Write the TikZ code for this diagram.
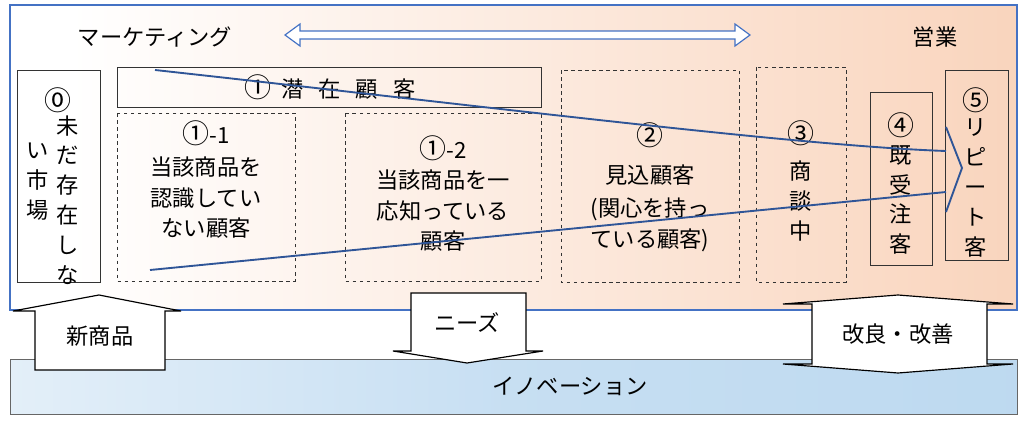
\documentclass[tikz,border=0pt]{standalone}
\usepackage{fontspec}
\setmainfont{Noto Sans CJK JP}
\usetikzlibrary{arrows.meta}
\definecolor{frameblue}{HTML}{4472C4}
\definecolor{lineblue}{HTML}{2F5597}
\definecolor{orng}{HTML}{F6BE9A}
\definecolor{lblue}{HTML}{B4D4EE}
\pgfdeclarehorizontalshading{mainshade}{100bp}{color(0bp)=(white);color(28bp)=(white);color(100bp)=(orng)}
\pgfdeclarehorizontalshading{botshade}{100bp}{color(0bp)=(white);color(50bp)=(lblue!75);color(100bp)=(lblue)}
\begin{document}
\begin{tikzpicture}[x=0.03cm,y=-0.03cm,
  every node/.style={font=\fontsize{19}{26}\selectfont,inner sep=0pt},
  num/.style={font=\fontsize{23}{26}\selectfont},
  vert/.style={align=center,font=\fontsize{19}{25.5}\selectfont},
  solidbox/.style={draw=black!80,line width=0.6pt},
  dashbox/.style={draw=black!80,dashed,line width=0.6pt},
  blk/.style={draw=black,fill=white,line width=1pt,line join=miter},
  flow/.style={draw=lineblue,line width=1.6pt}]
\useasboundingbox (0,0) rectangle (1024,421);
\path[shading=mainshade,draw=frameblue,line width=1.2pt] (10,5) rectangle (1017,310);
\path[shading=botshade,draw=black!60,line width=0.8pt] (10,359) rectangle (1017,414);
\node (inno) at (570,386) {イノベーション};
\node (mkt) at (155,37) {マーケティング};
\node (sales) at (935,37) {営業};
% double arrow
\draw[draw=frameblue,line width=1pt,fill=white] (285,35) -- (300,24) -- (300,31) -- (735,31) -- (735,24) -- (750,35) -- (735,46) -- (735,39) -- (300,39) -- (300,46) -- cycle;
% boxes
\draw[solidbox] (17,70) rectangle (100,282);
\node[num] (b0) at (58,100) {⓪};
\node[vert] (b0r) at (68,200) {未\\だ\\存\\在\\し\\な};
\node[vert] (b0l) at (38,182) {い\\市\\場};
\draw[solidbox] (117,67) rectangle (541,107);
\node (b1) at (330,87) {{\fontsize{23}{26}\selectfont①}\ \ 潜\ \ \ 在\ \ \ 顧\ \ \ 客};
\draw[dashbox] (117,113) rectangle (295,281);
\node[num] (b11n) at (206,133) {①{\fontsize{19}{26}\selectfont -1}};
\node[align=center] (b11) at (206,198) {当該商品を\\認識してい\\ない顧客};
\draw[dashbox] (345,113) rectangle (541,281);
\node[num] (b12n) at (443,148) {①{\fontsize{19}{26}\selectfont -2}};
\node[align=center] (b12) at (443,211) {当該商品を一\\応知っている\\顧客};
\draw[dashbox] (561,70) rectangle (739,282);
\node[num] (b2n) at (650,135) {②};
\node (b2a) at (650,175) {見込顧客};
\node[align=center] (b2) at (650,225) {(関心を持っ\\ている顧客)};
\draw[dashbox] (756,67) rectangle (846,282);
\node[num] (b3n) at (801,133) {③};
\node[vert] (b3) at (801,201) {商\\談\\中};
\draw[solidbox] (870,92) rectangle (932,265);
\node[num] (b4n) at (901,125) {④};
\node[vert] (b4) at (901,200) {既\\受\\注\\客};
\draw[solidbox] (945,70) rectangle (1008,260);
\node[num] (b5n) at (976,100) {⑤};
\node[vert] (b5) at (976,188) {リ\\ピ\\ー\\ト\\客};
% flow lines
\coordinate (s1) at (155,70); \coordinate (e1) at (946,151);
\coordinate (s2) at (150,270); \coordinate (e2) at (946,192);
\draw[flow] (s1) .. controls (500,108) and (800,146) .. (e1);
\draw[flow] (s2) -- (e2);
\draw[flow,line join=miter] (946,127) -- (962,168) -- (946,212);
% block arrows
\draw[blk] (35,370) -- (35,311) -- (13,311) -- (99,295) -- (181,311) -- (165,311) -- (165,370) -- cycle;
\node (np) at (100,336) {新商品};
\draw[blk] (411,293) -- (526,293) -- (526,351) -- (543,351) -- (467,363) -- (393,351) -- (411,351) -- cycle;
\node (needs) at (467,323) {ニーズ};
\draw[blk] (812,304) -- (783,304) -- (898,295) -- (1013,304) -- (987,304) -- (987,364) -- (1013,364) -- (898,373) -- (783,364) -- (812,364) -- cycle;
\node (kai) at (898,334) {改良・改善};
\end{tikzpicture}
\end{document}
